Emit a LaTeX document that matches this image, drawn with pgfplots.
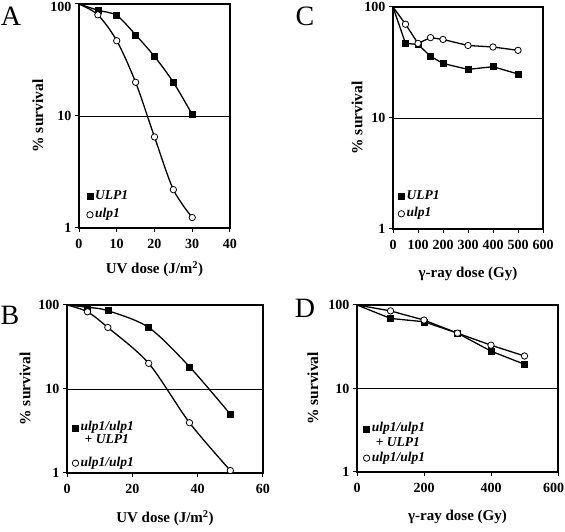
\documentclass[border=0pt]{standalone}
\usepackage{fontspec}
\setmainfont{Liberation Serif}
\usepackage{pgfplots}
\pgfplotsset{compat=1.18}
\newcommand\ls{\rule[-3pt]{0pt}{12pt}}
\pgfplotsset{
  every axis/.append style={
    scale only axis, clip=false,
    ymode=log, ymin=1, ymax=100,
    ytick={1,10,100}, yticklabels={1,10,100},
    yminorticks=false,
    ymajorgrids, grid style={black, line width=0.7pt},
    axis line style={black, line width=1.6pt},
    xtick pos=bottom, ytick pos=left,
    tick align=outside, major tick length=4pt,
    major tick style={black, line width=1pt},
    ticklabel style={font=\fontsize{14}{15}\selectfont\bfseries},
    xticklabel style={yshift=-3.5pt},
    ylabel={\% survival},
    legend cell align=left,
  },
  /pgf/number format/assume math mode=true,
  every axis y label/.style={rotate=90, anchor=center, font=\fontsize{15.5}{17}\selectfont\bfseries},
  every axis x label/.style={anchor=center, font=\fontsize{15}{17}\selectfont\bfseries},
  every axis legend/.style={draw=none, fill=none, inner sep=0pt, anchor=north west,
      font=\fontsize{13.5}{14}\selectfont\bfseries\itshape,
      nodes={inner sep=0.5pt}, column sep=1.5pt},
  legend image code/.code={\draw[#1] plot coordinates {(0pt,0pt)};},
  ulpsq/.style={black, line width=1.3pt, mark=square*, mark size=3pt, mark options={fill=black, line width=0.5pt, solid}},
  ulpci/.style={black, line width=1.3pt, mark=*, mark size=3.2pt, mark options={fill=white, line width=0.8pt, solid}},
}
\begin{document}
\begin{tikzpicture}
\path[use as bounding box] (0pt,0pt) rectangle (565pt,532pt);
% Panel A
\begin{axis}[at={(79pt,304pt)}, anchor=south west, width=151pt, height=224pt,
  xmin=0, xmax=40, xtick={0,10,20,30,40},
  yticklabels={1,10,{\raisebox{-2.5pt}[9.6pt][0pt]{100}}},
  xlabel={UV dose (J/m\textsuperscript{2})},
  xlabel style={at={(axis description cs:0.5,-0.183)}},
  ylabel style={at={(axis description cs:-0.272,0.5)}},
  legend style={at={(0.05,0.17)}, row sep=5pt}]
\addlegendimage{ulpsq, only marks}
\addlegendentry{\ls ULP1}
\addlegendimage{ulpci, only marks}
\addlegendentry{\ls ulp1}
\addplot[ulpsq, smooth, mark indices={2,3,4,5,6,7}, forget plot] coordinates {(0,100)(5,88)(10,79)(15,53)(20,34)(25,20)(30,10.3)};
\addplot[ulpci, smooth, mark indices={2,3,4,5,6,7}, forget plot] coordinates {(0,100)(5,80)(10,47)(15,20)(20,6.5)(25,2.2)(30,1.24)};
\end{axis}
% Panel C
\begin{axis}[at={(393pt,303pt)}, anchor=south west, width=150pt, height=222pt,
  xmin=0, xmax=600, xtick={0,100,200,300,400,500,600},
  xlabel={γ-ray dose (Gy)},
  xlabel style={at={(axis description cs:0.5,-0.203)}},
  ylabel style={at={(axis description cs:-0.24,0.5)}},
  legend style={at={(0.033,0.176)}, row sep=4pt}]
\addlegendimage{ulpsq, only marks}
\addlegendentry{\ls ULP1}
\addlegendimage{ulpci, only marks}
\addlegendentry{\ls ulp1}
\addplot[ulpsq, mark indices={2,3,4,5,6,7,8}, forget plot] coordinates {(0,100)(50,47)(100,46)(150,36)(200,31)(300,27.4)(400,29)(500,24.9)};
\addplot[ulpci, mark indices={2,3,4,5,6,7,8}, forget plot] coordinates {(0,100)(50,70)(100,47)(150,53)(200,51)(300,45)(400,43.6)(500,40.7)};
\end{axis}
% Panel B
\begin{axis}[at={(67pt,59pt)}, anchor=south west, width=196pt, height=168pt,
  xmin=0, xmax=60, xtick={0,20,40,60},
  xlabel={UV dose (J/m\textsuperscript{2})},
  xlabel style={at={(axis description cs:0.5,-0.268)}},
  ylabel style={at={(axis description cs:-0.214,0.5)}},
  legend style={at={(0.026,0.31)}}]
\addlegendimage{ulpsq, only marks}
\addlegendentry{\ls ulp1/ulp1}
\addlegendimage{empty legend}
\addlegendentry{\ls\rule[-12pt]{0pt}{1pt}\hspace{4pt}+ ULP1}
\addlegendimage{ulpci, only marks}
\addlegendentry{\ls ulp1/ulp1}
\addplot[ulpsq, smooth, mark indices={2,3,4,5,6}, forget plot] coordinates {(0,100)(6.25,94)(12.5,85.5)(25,54)(37.5,18.4)(50,5.0)};
\addplot[ulpci, smooth, mark indices={2,3,4,5,6}, forget plot] coordinates {(0,100)(6.25,83)(12.5,54)(25,20.2)(37.5,3.97)(50,1.07)};
\end{axis}
% Panel D
\begin{axis}[at={(357pt,60pt)}, anchor=south west, width=201pt, height=167pt,
  xmin=0, xmax=600, xtick={0,200,400,600}, xticklabels={0,200,400,{\llap{600\hspace{-6pt}}}},
  xlabel={γ-ray dose (Gy)},
  xlabel style={at={(axis description cs:0.5,-0.27)}},
  ylabel style={at={(axis description cs:-0.22,0.5)}},
  legend style={at={(0.031,0.30)}, row sep=1.5pt}]
\addlegendimage{ulpsq, only marks}
\addlegendentry{\ls ulp1/ulp1}
\addlegendimage{empty legend}
\addlegendentry{\ls\hspace{4pt}+ ULP1}
\addlegendimage{ulpci, only marks}
\addlegendentry{\ls ulp1/ulp1}
\addplot[ulpsq, mark indices={2,3,4,5,6}, forget plot] coordinates {(0,100)(100,69)(200,63)(300,46)(400,28)(500,19.5)};
\addplot[ulpci, mark indices={2,3,4,5,6}, forget plot] coordinates {(0,100)(100,85)(200,66)(300,46)(400,33)(500,24.5)};
\end{axis}
\node[font=\fontsize{28}{30}\selectfont] at (11pt,516pt) {A};
\node[font=\fontsize{28}{30}\selectfont] at (305pt,516pt) {C};
\node[font=\fontsize{28}{30}\selectfont] at (10pt,217pt) {B};
\node[font=\fontsize{28}{30}\selectfont] at (305pt,224pt) {D};
\end{tikzpicture}
\end{document}
